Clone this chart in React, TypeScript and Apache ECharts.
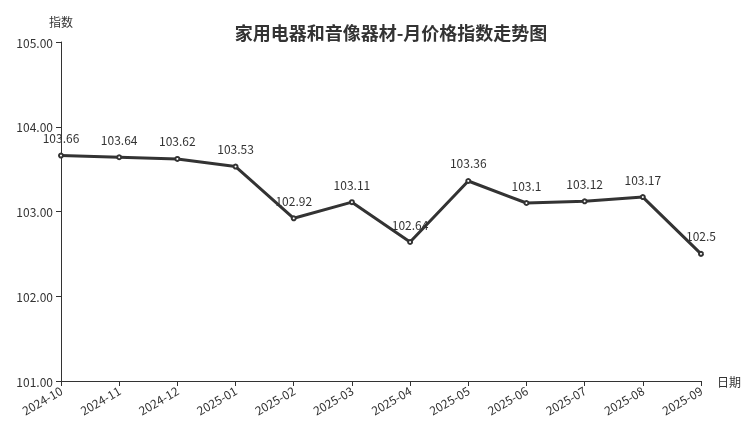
import React, { useEffect, useRef } from "react";
import * as echarts from "echarts";

const categories = ["2024-10", "2024-11", "2024-12", "2025-01", "2025-02", "2025-03", "2025-04", "2025-05", "2025-06", "2025-07", "2025-08", "2025-09"];
const values = [103.66, 103.64, 103.62, 103.53, 102.92, 103.11, 102.64, 103.36, 103.1, 103.12, 103.17, 102.5];
const titleText = "家用电器和音像器材-月价格指数走势图";

const FONT = "'Noto Sans CJK SC', 'Noto Sans', sans-serif";

export default function App() {
  const ref = useRef<HTMLDivElement>(null);
  useEffect(() => {
    if (!ref.current) return;
    const chart = echarts.init(ref.current, undefined, { renderer: "svg" });
    chart.setOption({
      animation: false,
      textStyle: { fontFamily: FONT },
      title: {
        text: titleText,
        left: 386,
        textAlign: "center",
        top: 18,
        textStyle: { fontSize: 18, fontWeight: "bold", color: "#333", fontFamily: FONT },
      },
      grid: { left: 61, right: 51, top: 42, bottom: 46, containLabel: false },
      xAxis: {
        type: "category",
        data: categories,
        boundaryGap: false,
        name: "日期",
        nameGap: 16,
        nameTextStyle: { color: "#333", fontSize: 12, fontFamily: FONT },
        axisLine: { lineStyle: { color: "#333" } },
        axisTick: { alignWithLabel: true, lineStyle: { color: "#333" } },
        axisLabel: { rotate: 30, color: "#333", fontSize: 12, interval: 0, fontFamily: FONT },
      },
      yAxis: {
        type: "value",
        min: 101,
        max: 105,
        interval: 1,
        name: "指数",
        nameGap: 15,
        nameTextStyle: { color: "#333", fontSize: 12, fontFamily: FONT },
        axisLine: { show: true, lineStyle: { color: "#333" } },
        axisTick: { show: true, lineStyle: { color: "#333" } },
        splitLine: { show: false },
        axisLabel: { color: "#333", fontSize: 12, formatter: (v: number) => v.toFixed(2), fontFamily: FONT },
      },
      series: [
        {
          type: "line",
          data: values,
          symbol: "emptyCircle",
          symbolSize: 4,
          lineStyle: { color: "#333", width: 3 },
          itemStyle: { color: "#333", borderWidth: 1 },
          label: { show: true, position: "top", distance: 9, color: "#333", fontSize: 12, fontFamily: FONT },
        },
      ],
    });
    return () => chart.dispose();
  }, []);
  return <div ref={ref} style={{ position: "fixed", left: 0, top: 0, width: 752, height: 427 }} />;
}
